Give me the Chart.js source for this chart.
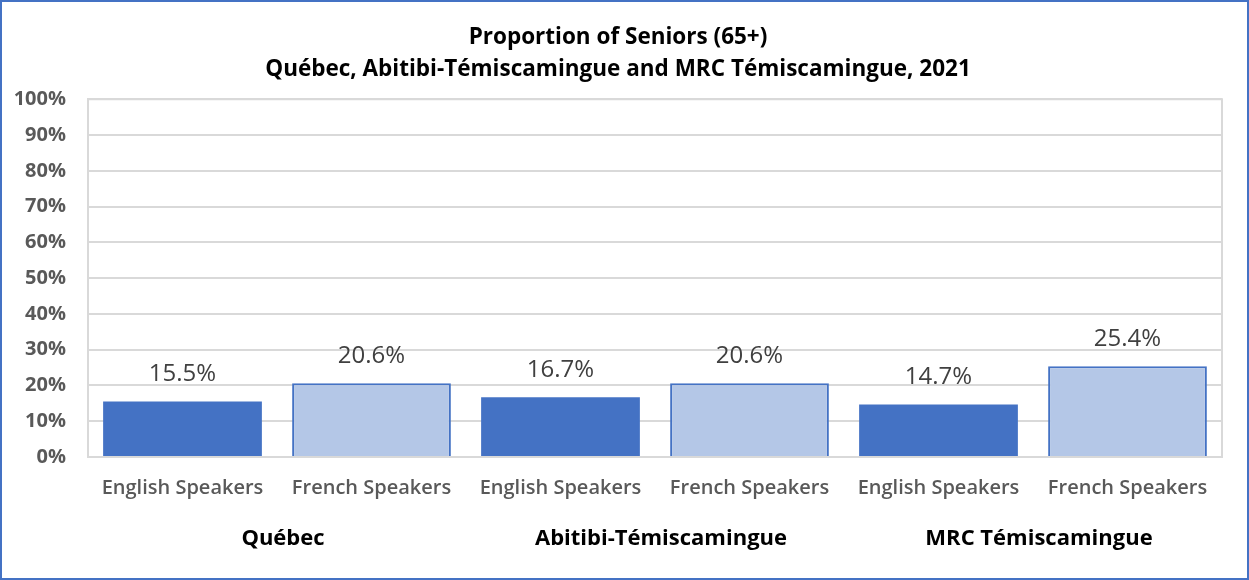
<!DOCTYPE html>
<html>
<head>
<meta charset="utf-8">
<script src="https://cdn.jsdelivr.net/npm/chart.js@4/dist/chart.umd.min.js"></script>
<style>
  html, body { margin: 0; padding: 0; background: #fff; }
  #wrap { width: 1249px; height: 580px; box-sizing: border-box; border: 2px solid #4472C4; position: relative; }
  #c { display: block; }
</style>
</head>
<body>
<div id="wrap"><canvas id="c"></canvas></div>
<script>
const titleLines = ['Proportion of Seniors (65+)', 'Québec, Abitibi-Témiscamingue and MRC Témiscamingue, 2021'];
const categories = ['English Speakers', 'French Speakers', 'English Speakers', 'French Speakers', 'English Speakers', 'French Speakers'];
const groups = ['Québec', 'Abitibi-Témiscamingue', 'MRC Témiscamingue'];
const values = [15.5, 20.6, 16.7, 20.6, 14.7, 25.4];
const yTicks = [0, 10, 20, 30, 40, 50, 60, 70, 80, 90, 100];

const DARK = '#4472C4', LIGHT = '#B4C7E7';
const FONT = '"Open Sans", sans-serif';

const extras = {
  id: 'extras',
  afterDraw(chart) {
    const ctx = chart.ctx, a = chart.chartArea, x = chart.scales.x;
    ctx.save();
    ctx.strokeStyle = '#D9D9D9';
    ctx.lineWidth = 2;
    ctx.strokeRect(a.left, a.top, a.right - a.left, a.bottom - a.top);
    ctx.fillStyle = '#404040';
    ctx.font = '24px ' + FONT;
    ctx.textAlign = 'center';
    ctx.textBaseline = 'middle';
    const meta = chart.getDatasetMeta(0);
    meta.data.forEach((bar, i) => {
      ctx.fillText(values[i].toFixed(1) + '%', bar.x, bar.y - 27);
    });
    ctx.fillStyle = '#000';
    ctx.font = 'bold 22px ' + FONT;
    groups.forEach((g, gi) => {
      const cx = (x.getPixelForValue(gi * 2) + x.getPixelForValue(gi * 2 + 1)) / 2;
      ctx.fillText(g, cx + 6, 537);
    });
    ctx.restore();
  }
};

new Chart(document.getElementById('c'), {
  type: 'bar',
  data: {
    labels: categories,
    datasets: [{
      data: values,
      backgroundColor: values.map((v, i) => i % 2 ? LIGHT : DARK),
      borderColor: DARK,
      borderWidth: values.map((v, i) => i % 2 ? 2 : 0),
      barPercentage: 0.84,
      categoryPercentage: 1.0
    }]
  },
  options: {
    responsive: true,
    maintainAspectRatio: false,
    animation: false,
    layout: { padding: { left: 12, right: 25, top: 0, bottom: 59 } },
    plugins: {
      legend: { display: false },
      tooltip: { enabled: false },
      title: {
        display: true,
        text: titleLines,
        color: '#000',
        font: { family: FONT, size: 22.5, weight: 'bold', lineHeight: 1.45 },
        padding: { top: 19, bottom: 13 }
      }
    },
    scales: {
      x: {
        grid: { display: false, drawTicks: false },
        border: { display: true, color: '#D9D9D9', width: 2 },
        ticks: { color: '#595959', font: { family: FONT, size: 20, weight: 600 }, padding: 19, maxRotation: 0, autoSkip: false }
      },
      y: {
        min: 0, max: 100,
        afterBuildTicks(s) { s.ticks = yTicks.map(v => ({ value: v })); },
        afterFit(s) { s.width = 74; },
        grid: { color: '#D9D9D9', lineWidth: 2, drawTicks: false },
        border: { display: true, color: '#D9D9D9', width: 2 },
        ticks: { color: '#595959', font: { family: FONT, size: 20, weight: 'bold' }, padding: 22, callback: v => v + '%' }
      }
    }
  },
  plugins: [extras]
});
</script>
</body>
</html>
